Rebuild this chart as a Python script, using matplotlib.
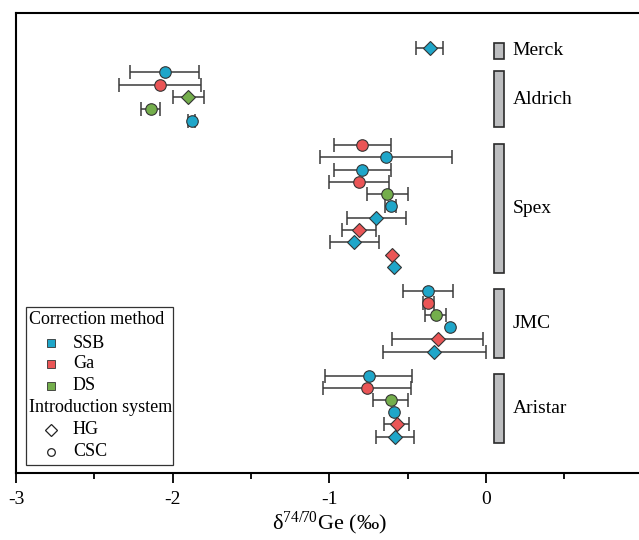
import matplotlib
matplotlib.use("Agg")
import matplotlib.pyplot as plt
from matplotlib.patches import Rectangle
from matplotlib.lines import Line2D

plt.rcParams['font.family'] = ['Liberation Serif', 'DejaVu Serif']
plt.rcParams['mathtext.fontset'] = 'custom'
plt.rcParams['mathtext.rm'] = 'Liberation Serif'
plt.rcParams['mathtext.it'] = 'Liberation Serif:italic'
plt.rcParams['axes.unicode_minus'] = False

# ---- data ----
groups = ['Merck', 'Aldrich', 'Spex', 'JMC', 'Aristar']
merck_method = ['SSB']
merck_system = ['HG']
merck_value = [-0.36]
merck_err = [0.085]

aldrich_method = ['SSB', 'Ga', 'DS', 'DS', 'SSB']
aldrich_system = ['CSC', 'CSC', 'HG', 'CSC', 'CSC']
aldrich_value = [-2.05, -2.08, -1.90, -2.14, -1.88]
aldrich_err = [0.22, 0.26, 0.10, 0.06, 0.025]

spex_method = ['Ga', 'SSB', 'SSB', 'Ga', 'DS', 'SSB', 'SSB', 'Ga', 'SSB', 'Ga', 'SSB']
spex_system = ['CSC', 'CSC', 'CSC', 'CSC', 'CSC', 'CSC', 'HG', 'HG', 'HG', 'HG', 'HG']
spex_value = [-0.79, -0.64, -0.79, -0.81, -0.63, -0.61, -0.70, -0.81, -0.84, -0.60, -0.59]
spex_err = [0.18, 0.42, 0.18, 0.19, 0.13, 0.035, 0.19, 0.11, 0.155, 0.0, 0.0]

jmc_method = ['SSB', 'Ga', 'DS', 'SSB', 'Ga', 'SSB']
jmc_system = ['CSC', 'CSC', 'CSC', 'CSC', 'HG', 'HG']
jmc_value = [-0.37, -0.37, -0.32, -0.23, -0.31, -0.33]
jmc_err = [0.16, 0.035, 0.067, 0.0, 0.29, 0.33]

aristar_method = ['SSB', 'Ga', 'DS', 'SSB', 'Ga', 'SSB']
aristar_system = ['CSC', 'CSC', 'CSC', 'CSC', 'HG', 'HG']
aristar_value = [-0.75, -0.76, -0.61, -0.59, -0.57, -0.58]
aristar_err = [0.28, 0.28, 0.11, 0.0, 0.08, 0.12]

methods = ['SSB', 'Ga', 'DS']
systems = ['HG', 'CSC']
xticks = [-3, -2, -1, 0]

# ---- style ----
method_colors = {'SSB': '#1fa6c9', 'Ga': '#ea5556', 'DS': '#74ae4c'}
system_markers = {'HG': 'D', 'CSC': 'o'}
system_sizes = {'HG': 7.5, 'CSC': 8.3}

group_data = [
    (merck_method, merck_system, merck_value, merck_err),
    (aldrich_method, aldrich_system, aldrich_value, aldrich_err),
    (spex_method, spex_system, spex_value, spex_err),
    (jmc_method, jmc_system, jmc_value, jmc_err),
    (aristar_method, aristar_system, aristar_value, aristar_err),
]

W, H = 639, 540
fig = plt.figure(figsize=(W / 100, H / 100), dpi=100)
ax_left = 16 / W
ax_bottom = (H - 473) / H
ax_height = (473 - 13) / H
ax_width = 4 * 156.7 / W
ax = fig.add_axes([ax_left, ax_bottom, ax_width, ax_height])

row = 0
for gname, (m_list, s_list, v_list, e_list) in zip(groups, group_data):
    first = row
    for m, s, v, e in zip(m_list, s_list, v_list, e_list):
        if e > 0:
            ax.errorbar(v, row, xerr=e, fmt='none', ecolor='#3a3a3a',
                        elinewidth=1.1, capsize=5, capthick=1.1, zorder=2)
        ax.plot(v, row, marker=system_markers[s], ms=system_sizes[s],
                mfc=method_colors[m], mec='#333333', mew=0.8,
                linestyle='none', zorder=3)
        row += 1
    last = row - 1
    span = last - first
    height = max(span + 0.65, 1.3)
    center = (first + last) / 2 + 0.2
    ax.add_patch(Rectangle((0.052, center - height / 2), 0.062, height,
                           facecolor='#bdbec0', edgecolor='#2a2a2a',
                           linewidth=1.2, zorder=2))
    ax.text(0.17, center, gname, fontsize=14, va='center', ha='left')
    row += 1

ax.set_xlim(-3, 1)
ax.set_ylim(35.0, -2.9)
ax.set_yticks([])
ax.set_xticks(xticks)
ax.set_xticklabels([str(t) for t in xticks], fontsize=14)
ax.set_xticks([-2.5, -1.5, -0.5, 0.5], minor=True)
ax.tick_params(axis='x', which='major', direction='out', length=7, width=1.3, pad=6)
ax.tick_params(axis='x', which='minor', direction='out', length=4, width=1.3)
for sp in ax.spines.values():
    sp.set_linewidth(1.5)
ax.set_xlabel('δ$^{\\mathrm{74/70}}$Ge (‰)', fontsize=16, labelpad=1)

# ---- manual legend ----
def fx(px):
    return px / W

def fy(py):
    return 1 - py / H

fig.patches.append(Rectangle((fx(26), fy(465)), fx(173) - fx(26), fy(307) - fy(465),
                             transform=fig.transFigure, facecolor='white',
                             edgecolor='#333333', linewidth=0.9, zorder=5))
fig.text(fx(29), fy(320), 'Correction method', fontsize=13, va='center', ha='left', zorder=6)
ys = [343, 364, 386]
for m, yy in zip(methods, ys):
    fig.add_artist(Line2D([fx(51)], [fy(yy)], marker='s', ms=6, mfc=method_colors[m],
                          mec='#333333', mew=0.6, linestyle='none',
                          transform=fig.transFigure, zorder=6))
    fig.text(fx(73), fy(yy), m, fontsize=13, va='center', ha='left', zorder=6)
fig.text(fx(29), fy(407), 'Introduction system', fontsize=13, va='center', ha='left', zorder=6)
ys2 = [430, 452]
for s, yy in zip(systems, ys2):
    fig.add_artist(Line2D([fx(51)], [fy(yy)], marker=system_markers[s],
                          ms=6 if s == 'HG' else 5.5, mfc='white',
                          mec='#222222', mew=0.9, linestyle='none',
                          transform=fig.transFigure, zorder=6))
    fig.text(fx(73), fy(yy), s, fontsize=13, va='center', ha='left', zorder=6)

fig.savefig('out.png', dpi=100)
